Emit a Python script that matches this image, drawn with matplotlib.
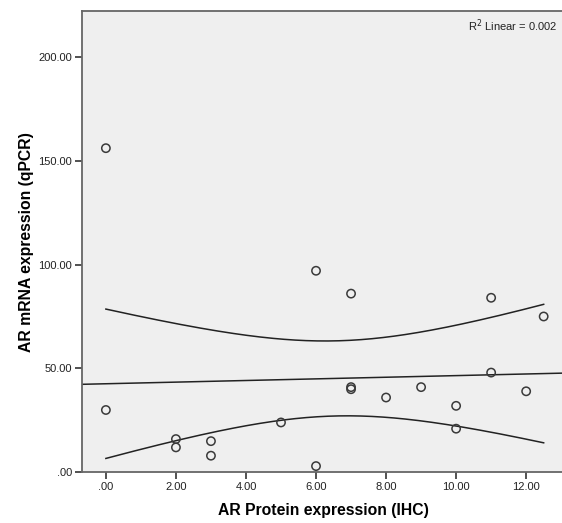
import numpy as np
import matplotlib.pyplot as plt
from matplotlib.ticker import FuncFormatter

# --------------------
# Data
# --------------------
protein_ihc = [0, 0, 2, 2, 3, 3, 5, 6, 6, 7, 7, 7, 8, 9, 10, 10, 11, 11, 12, 12.5]
mrna_qpcr = [156, 30, 16, 12, 15, 8, 24, 97, 3, 86, 41, 40, 36, 41, 32, 21, 84, 48, 39, 75]
x_ticks = [0, 2, 4, 6, 8, 10, 12]
y_ticks = [0, 50, 100, 150, 200]

x = np.array(protein_ihc, dtype=float)
y = np.array(mrna_qpcr, dtype=float)

# --------------------
# Linear fit + 95% CI of the mean
# --------------------
n = len(x)
slope, intercept = np.polyfit(x, y, 1)
resid = y - (slope * x + intercept)
s = np.sqrt(np.sum(resid ** 2) / (n - 2))
sxx = np.sum((x - x.mean()) ** 2)
r2 = 1 - np.sum(resid ** 2) / np.sum((y - y.mean()) ** 2)
t_crit = 2.101  # t(0.975, df=18)

xlim = (-0.69, 13.11)
ylim = (0, 222)

x_line = np.linspace(xlim[0], xlim[1], 200)
x_band = np.linspace(x.min(), x.max(), 200)
y_band = slope * x_band + intercept
half = t_crit * s * np.sqrt(1 / n + (x_band - x.mean()) ** 2 / sxx)

# --------------------
# Plot
# --------------------
plt.rcParams['font.family'] = ['Liberation Sans', 'DejaVu Sans']

fig = plt.figure(figsize=(5.62, 5.23), dpi=100)
ax = fig.add_axes([0.1454, 0.0969, 0.86, 0.882])
ax.set_facecolor('#efefef')

ax.plot(x_line, slope * x_line + intercept, color='#222222', lw=1.1)
ax.plot(x_band, y_band + half, color='#222222', lw=1.1)
ax.plot(x_band, y_band - half, color='#222222', lw=1.1)
ax.scatter(x, y, s=36, facecolors='none', edgecolors='#3a3a3a', linewidths=1.1, zorder=3)

ax.set_xlim(*xlim)
ax.set_ylim(*ylim)
ax.set_xticks(x_ticks)
ax.set_yticks(y_ticks)
fmt = FuncFormatter(lambda v, p: f"{v:.2f}".lstrip('0') if v < 1 else f"{v:.2f}")
ax.xaxis.set_major_formatter(fmt)
ax.yaxis.set_major_formatter(fmt)
ax.tick_params(direction='out', length=5, width=1.2, color='#333333',
               labelsize=8, labelcolor='#222222', pad=2)

for side in ['left', 'bottom', 'top', 'right']:
    ax.spines[side].set_color('#666666')
    ax.spines[side].set_linewidth(1.3)

ax.set_xlabel('AR Protein expression (IHC)', fontsize=11.3, fontweight='bold', labelpad=8)
ax.set_ylabel('AR mRNA expression (qPCR)', fontsize=11.3, fontweight='bold', labelpad=3)

fig.text(557 / 562, 1 - 31 / 523, f"R$^2$ Linear = {r2:.3f}", ha='right', va='baseline',
         fontsize=8, color='#222222')

plt.savefig('out.png', dpi=100)
print(slope, intercept, r2)
